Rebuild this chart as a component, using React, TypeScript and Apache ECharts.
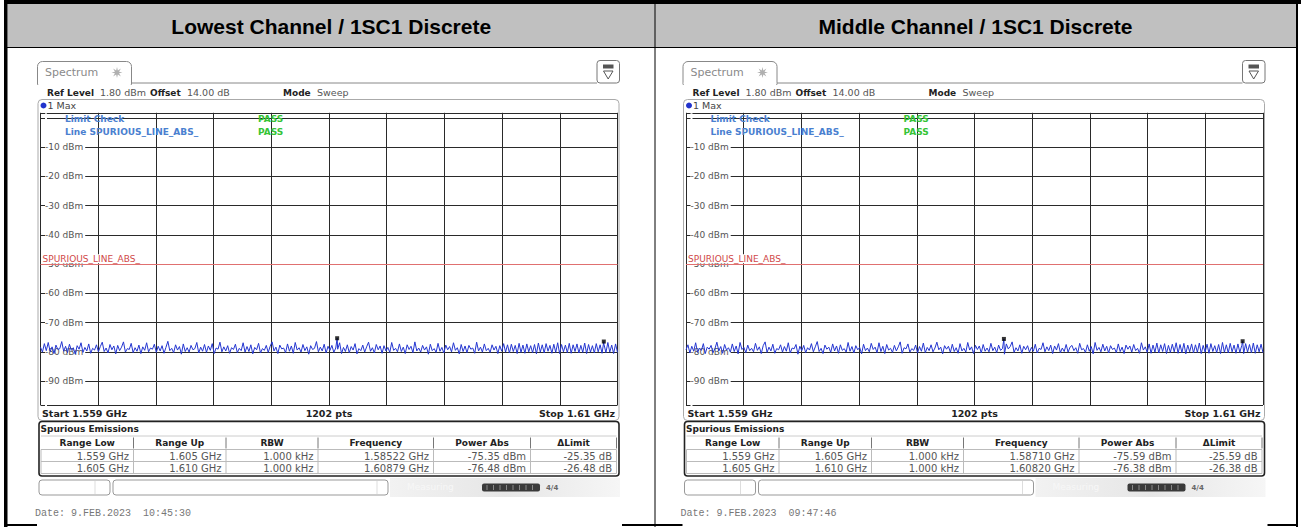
import React, { useEffect, useRef } from "react";
import * as echarts from "echarts";

// ---------- data ----------
const titles = ["Lowest Channel / 1SC1 Discrete", "Middle Channel / 1SC1 Discrete"];
const dates = ["Date: 9.FEB.2023  10:45:30", "Date: 9.FEB.2023  09:47:46"];
const START_GHZ = 1.559;
const STOP_GHZ = 1.61;
const POINTS = 1202;
const REF_LEVEL = 1.8;
const RANGE_DB = 100;
const LIMIT_DBM = -50;
const LIMIT_NAME = "SPURIOUS_LINE_ABS_";

const tableHeaders = ["Range Low", "Range Up", "RBW", "Frequency", "Power Abs", "\u0394Limit"];
const rangeLow = ["1.559 GHz", "1.605 GHz"];
const rangeUp = ["1.605 GHz", "1.610 GHz"];
const rbw = ["1.000 kHz", "1.000 kHz"];

const peakFreqLow = [1.58522, 1.60879];
const peakPowLow = [-75.35, -76.48];
const deltaLow = [-25.35, -26.48];
const peakFreqMid = [1.5871, 1.6082];
const peakPowMid = [-75.59, -76.38];
const deltaMid = [-25.59, -26.38];

const traceLow = [
  -78.4, -80.1, -77.2, -79.6, -76.8, -79.9, -78.3, -80.6, -77.7, -79.2, -78.9, -76.5, -79.8, -78.1, -80.3, -77.4, -79.5, -78.6, -80.8, -77.9,
  -79.1, -76.9, -80.2, -78.5, -79.7, -77.3, -80.5, -78.8, -79.4, -77.6, -80.0, -78.2, -76.7, -79.9, -78.7, -80.4, -77.5, -79.3, -78.0, -80.7,
  -77.8, -79.6, -78.4, -76.6, -80.1, -78.9, -79.2, -77.1, -80.3, -78.6, -79.8, -77.7, -80.6, -78.3, -79.5, -76.9, -80.0, -78.7, -79.1, -77.4,
  -80.2, -78.1, -79.7, -77.9, -80.5, -78.5, -76.4, -79.6, -78.8, -80.3, -77.6, -79.4, -78.2, -80.8, -77.3, -79.9, -78.6, -80.1, -77.8, -79.3,
  -78.9, -76.8, -80.4, -78.4, -79.8, -77.5, -80.2, -78.0, -79.5, -77.2, -80.6, -78.7, -79.1, -76.7, -80.0, -78.3, -79.7, -77.9, -80.5, -78.6,
  -79.2, -77.4, -80.3, -78.8, -79.6, -76.9, -80.1, -78.2, -79.9, -77.6, -80.7, -78.5, -79.3, -77.1, -80.4, -78.9, -79.5, -77.8, -80.2, -78.1,
  -76.6, -79.7, -78.4, -80.6, -77.7, -79.0, -78.7, -80.3, -77.3, -79.8, -78.0, -80.5, -76.8, -79.4, -78.6, -80.1, -77.5, -79.6, -78.3, -80.8,
  -77.9, -79.2, -78.8, -76.5, -80.0, -78.4, -79.7, -77.4, -80.4, -78.1, -79.5, -77.8, -80.2, -78.7, -79.1, -76.9, -80.6, -78.5, -79.9, -77.6,
  -80.3, -78.2, -79.4, -77.2, -80.7, -78.9, -79.6, -77.7, -80.1, -78.3, -76.7, -79.8, -78.6, -80.4, -77.5, -79.3, -78.0, -80.5, -77.9, -79.7,
  -78.5, -80.2, -76.8, -79.5, -78.8, -80.0, -77.3, -79.9, -78.4, -80.6, -77.6, -79.2, -78.1, -80.3, -76.6, -79.7, -78.7, -80.1, -77.8, -79.4,
  -78.3, -80.8, -77.4, -79.6, -78.9, -80.2, -77.1, -79.8, -78.5, -80.4, -77.7, -79.3, -78.2, -80.0, -76.9, -79.5, -78.6, -80.7, -77.5, -79.9,
  -78.0, -80.3, -77.8, -79.1, -78.7, -80.5, -76.7, -79.7, -78.4, -80.1, -77.3, -79.6, -78.8, -80.2, -77.6, -79.4, -78.1, -80.6, -77.9, -79.8,
  -77.2, -80.1, -77.6, -80.4, -77.4, -79.9, -77.8, -80.6, -77.1, -80.2, -77.7, -80.5, -77.3, -80.0, -77.9, -80.3, -77.5, -80.7, -77.0, -80.1,
  -77.6, -80.4, -77.2, -79.8, -77.8, -80.5, -77.4, -80.2, -76.9, -80.6, -77.5, -80.0, -77.7, -80.3, -77.1, -80.5, -77.6, -79.9, -77.3, -80.4,
  -77.8, -80.2, -77.0, -80.6, -77.5, -80.1, -77.9, -80.4, -77.2, -80.0, -77.6, -80.5, -77.4, -80.3, -76.8, -80.1, -77.7, -80.6, -77.3, -80.2,
];

const traceMid = [
  -79.3, -77.6, -80.4, -78.1, -79.8, -76.9, -80.2, -78.7, -79.5, -77.2, -80.6, -78.4, -79.1, -77.8, -80.3, -78.9, -76.7, -79.7, -78.2, -80.5,
  -77.5, -79.4, -78.6, -80.1, -77.3, -79.9, -78.0, -80.7, -76.8, -79.2, -78.5, -80.3, -77.7, -79.6, -78.8, -80.0, -77.1, -79.5, -78.3, -80.6,
  -77.9, -76.6, -80.2, -78.4, -79.7, -77.4, -80.5, -78.9, -79.3, -77.6, -80.1, -78.2, -79.8, -76.9, -80.4, -78.7, -79.0, -77.5, -80.8, -78.1,
  -79.6, -77.8, -80.3, -78.6, -79.4, -77.2, -80.0, -78.3, -76.5, -79.9, -78.8, -80.6, -77.7, -79.1, -78.4, -80.2, -77.3, -79.7, -78.0, -80.5,
  -77.6, -79.5, -78.9, -80.1, -76.8, -79.8, -78.2, -80.4, -77.9, -79.3, -78.5, -80.7, -77.4, -79.6, -78.7, -80.0, -77.1, -79.2, -78.4, -80.3,
  -76.9, -79.9, -78.1, -80.6, -77.5, -79.4, -78.8, -80.2, -77.8, -79.7, -78.3, -76.6, -80.5, -78.6, -79.0, -77.3, -80.1, -78.9, -79.5, -77.7,
  -80.4, -78.2, -79.8, -77.0, -80.3, -78.5, -79.6, -77.6, -80.0, -78.7, -76.7, -79.3, -78.4, -80.7, -77.9, -79.1, -78.1, -80.2, -77.4, -79.9,
  -78.6, -80.5, -77.2, -79.7, -78.8, -80.1, -76.8, -79.4, -78.3, -80.6, -77.8, -79.2, -78.0, -80.4, -77.5, -79.8, -78.7, -80.0, -77.1, -79.6,
  -78.4, -80.3, -77.7, -79.5, -78.9, -80.8, -77.3, -79.0, -78.2, -76.6, -80.2, -78.6, -79.7, -77.6, -80.5, -78.1, -79.3, -77.9, -80.1, -78.5,
  -79.8, -77.4, -80.4, -78.8, -79.2, -76.9, -80.0, -78.3, -79.6, -77.7, -80.6, -78.0, -79.4, -77.2, -80.3, -78.7, -79.9, -77.5, -80.1, -78.4,
  -77.8, -79.6, -78.6, -80.5, -77.1, -79.3, -78.9, -80.2, -77.6, -79.8, -78.2, -80.7, -76.8, -79.5, -78.5, -80.0, -77.4, -79.7, -78.1, -80.4,
  -77.9, -79.2, -78.7, -80.3, -77.3, -79.9, -78.4, -80.6, -77.7, -79.1, -78.0, -80.1, -77.5, -79.6, -78.8, -80.5, -76.9, -79.4, -78.3, -80.2,
  -77.3, -80.5, -77.7, -80.1, -77.0, -80.4, -77.6, -79.9, -77.2, -80.6, -77.8, -80.2, -77.4, -80.0, -76.9, -80.5, -77.5, -80.3, -77.1, -80.7,
  -77.7, -80.0, -77.3, -80.4, -77.6, -80.2, -77.0, -80.6, -77.8, -80.1, -77.4, -80.5, -77.2, -79.9, -77.9, -80.3, -77.5, -80.6, -76.8, -80.2,
  -77.6, -80.4, -77.1, -80.0, -77.7, -80.5, -77.3, -80.2, -77.8, -80.6, -77.2, -80.1, -77.5, -80.3, -77.0, -80.5, -77.6, -80.0, -77.4, -80.3,
];

// ---------- helpers ----------
const FONT = "DejaVu Sans";

function buildTrace(values: number[], mFreq: number[], mPow: number[]) {
  const step = (STOP_GHZ - START_GHZ) / (values.length - 1);
  const pts: number[][] = values.map((v, i) => [START_GHZ + i * step, v]);
  mFreq.forEach((f, k) => pts.push([f, mPow[k]]));
  pts.sort((a, b) => a[0] - b[0]);
  return pts;
}

function T(x: number, y: number, text: string, o: any = {}) {
  const align = o.align || "left";
  return {
    type: "text",
    x,
    y,
    silent: true,
    z: o.z ?? 20,
    style: {
      text,
      fill: o.fill || "#222",
      fontSize: o.size || 9,
      fontFamily: o.family || FONT,
      fontWeight: o.weight || "normal",
      align,
      textAlign: align,
      verticalAlign: "middle",
      textVerticalAlign: "middle",
    },
  };
}
function L(x1: number, y1: number, x2: number, y2: number, stroke: string, lw = 1, z = 20) {
  return { type: "line", silent: true, z, shape: { x1, y1, x2, y2 }, style: { stroke, lineWidth: lw } };
}
function R(x: number, y: number, w: number, h: number, o: any = {}) {
  return {
    type: "rect",
    silent: true,
    z: o.z ?? 15,
    shape: { x, y, width: w, height: h, r: o.r || 0 },
    style: { fill: o.fill || "none", stroke: o.stroke || "none", lineWidth: o.lw || 1 },
  };
}

const GRID_LEFT = 40.5;
const GRID_TOP = 112.8;
const GRID_W = 577;
const GRID_H = 292.2;
const COLS = [41, 133.5, 226, 318, 433.5, 530.5, 616.5];
const HEADER_BOTTOM = 47;

function starPoints(cx: number, cy: number, ro: number, ri: number, n: number) {
  const pts: number[][] = [];
  for (let i = 0; i < n * 2; i++) {
    const a = (Math.PI * i) / n - Math.PI / 2;
    const r = i % 2 === 0 ? ro : ri;
    pts.push([cx + r * Math.cos(a), cy + r * Math.sin(a)]);
  }
  return pts;
}

function panelGraphics(dx: number, p: any) {
  const g: any[] = [];
  // tab
  g.push({
    type: "rect", silent: true, z: 15,
    shape: { x: 37.5 + dx, y: 61.5, width: 94, height: 23, r: [5, 5, 0, 0] },
    style: { fill: "#fff", stroke: "#888", lineWidth: 1 },
  });
  g.push(R(38.2 + dx, 82.4, 92.6, 3, { fill: "#fff", z: 16 }));
  g.push(L(131.5 + dx, 83, 597 + dx, 83, "#888", 1, 16));
  g.push(T(45 + dx, 72.5, "Spectrum", { fill: "#8a8a8a", size: 11 }));
  g.push({ type: "polygon", silent: true, z: 20, shape: { points: starPoints(117 + dx, 72.5, 5.5, 2.2, 8) }, style: { fill: "#b0b0b0" } });
  // icon box
  g.push(R(597 + dx, 60.5, 22.5, 22.5, { r: 3, stroke: "#777", fill: "#fff" }));
  g.push(R(603 + dx, 64.5, 10.5, 4, { fill: "#555", z: 20 }));
  g.push({ type: "polygon", silent: true, z: 20, shape: { points: [[603.5 + dx, 71], [613 + dx, 71], [608.2 + dx, 79]] }, style: { fill: "none", stroke: "#555", lineWidth: 1 } });
  // ref level row
  g.push(T(47 + dx, 92.5, "Ref Level", { weight: "bold" }));
  g.push(T(100 + dx, 92.5, `${REF_LEVEL.toFixed(2)} dBm`, { fill: "#555", size: 9.5 }));
  g.push(T(150 + dx, 92.5, "Offset", { weight: "bold" }));
  g.push(T(187 + dx, 92.5, "14.00 dB", { fill: "#555", size: 9.5 }));
  g.push(T(283 + dx, 92.5, "Mode", { weight: "bold" }));
  g.push(T(317 + dx, 92.5, "Sweep", { fill: "#555", size: 9.5 }));
  // trace panel
  g.push(R(38 + dx, 99.5, 581, 321, { r: 4, stroke: "#aaa", z: 5 }));
  g.push({ type: "circle", silent: true, z: 20, shape: { cx: 43.5 + dx, cy: 105.5, r: 3 }, style: { fill: "#2233cc" } });
  g.push(T(47.5 + dx, 105.5, "1 Max", { fill: "#444", size: 9.5 }));
  g.push(T(65 + dx, 119, "Limit Check", { fill: "#4a80d0", weight: "bold" }));
  g.push(T(258 + dx, 119, "PASS", { fill: "#35c435", weight: "bold" }));
  g.push(T(65 + dx, 132, `Line ${LIMIT_NAME}`, { fill: "#4a80d0", weight: "bold" }));
  g.push(T(258 + dx, 132, "PASS", { fill: "#35c435", weight: "bold" }));
  // start / stop
  g.push(T(42 + dx, 413, `Start ${START_GHZ} GHz`, { weight: "bold", size: 9.5 }));
  g.push(T(GRID_LEFT + GRID_W / 2 + dx, 413, `${POINTS} pts`, { weight: "bold", size: 9.5, align: "center" }));
  g.push(T(615 + dx, 413, `Stop ${STOP_GHZ} GHz`, { weight: "bold", size: 9.5, align: "right" }));
  // spurious emissions table
  g.push(R(39 + dx, 421.5, 580, 54.5, { r: 3, stroke: "#222", lw: 1.6 }));
  g.push(T(40.5 + dx, 429, "Spurious Emissions", { weight: "bold" }));
  g.push(L(41 + dx, 436, 616.5 + dx, 436, "#ccc"));
  g.push(L(41 + dx, 449.5, 616.5 + dx, 449.5, "#bbb"));
  g.push(L(41 + dx, 461.5, 616.5 + dx, 461.5, "#bbb"));
  g.push(L(41 + dx, 473.5, 616.5 + dx, 473.5, "#bbb"));
  COLS.forEach((cx, i) => {
    g.push(L(cx + dx, 449.5, cx + dx, 473.5, "#bbb"));
    if (i > 0) g.push(L(cx + dx, 437.5, cx + dx, 448.5, "#777"));
  });
  tableHeaders.forEach((h, i) => {
    g.push(T((COLS[i] + COLS[i + 1]) / 2 + dx, 443, h, { weight: "bold", align: "center" }));
  });
  const rows = [0, 1].map((k) => [
    rangeLow[k],
    rangeUp[k],
    rbw[k],
    `${p.mFreq[k].toFixed(5)} GHz`,
    `${p.mPow[k].toFixed(2)} dBm`,
    `${p.delta[k].toFixed(2)} dB`,
  ]);
  rows.forEach((r, k) => {
    r.forEach((v, i) => {
      g.push(T(COLS[i + 1] - 4.5 + dx, 456 + k * 12, v, { fill: "#555", size: 10, align: "right" }));
    });
  });
  // status bar
  g.push(R(390 + dx, 478, 230, 19, {
    z: 12,
    fill: new echarts.graphic.LinearGradient(0, 0, 1, 0, [
      { offset: 0, color: "#f2f2f2" },
      { offset: 0.5, color: "#e6e6e6" },
      { offset: 1, color: "#f6f6f6" },
    ]),
  }));
  g.push(R(39 + dx, 480, 71, 15, { r: 3, stroke: "#999", fill: "#fff" }));
  g.push(L(95 + dx, 481, 95 + dx, 494, "#ddd"));
  g.push(R(113 + dx, 480, 275, 15, { r: 3, stroke: "#999", fill: "#fff" }));
  g.push(L(377 + dx, 481, 377 + dx, 494, "#ddd"));
  g.push(T(407 + dx, 487, "Measuring", { fill: "#f7f7f7", size: 9 }));
  g.push(R(482 + dx, 483.5, 58, 8, { r: 2, fill: "#3a3a3a", z: 18 }));
  for (let i = 0; i < 8; i++) {
    g.push(L(487 + i * 6.5 + dx, 485, 487 + i * 6.5 + dx, 490, "#888", 1, 19));
  }
  g.push(T(546 + dx, 487.5, "4/4", { fill: "#666", size: 7, weight: "bold" }));
  // date
  g.push(T(35 + dx, 513, p.date, { fill: "#777", size: 10, family: "Liberation Mono" }));
  return g;
}

const panels = [
  { dx: 0, title: titles[0], date: dates[0], trace: traceLow, mFreq: peakFreqLow, mPow: peakPowLow, delta: deltaLow },
  { dx: 645.5, title: titles[1], date: dates[1], trace: traceMid, mFreq: peakFreqMid, mPow: peakPowMid, delta: deltaMid },
];

function buildOption() {
  const grids: any[] = [];
  const xAxes: any[] = [];
  const yAxes: any[] = [];
  const series: any[] = [];
  const graphics: any[] = [];

  // outer table frame
  graphics.push(R(7.5, 4, 1288.5, HEADER_BOTTOM - 4, { fill: "#c0c0c0", z: 1 }));
  graphics.push(R(4, 0, 1297, 4, { fill: "#000", z: 2 }));
  graphics.push(R(4, 0, 3.5, 527, { fill: "#000", z: 2 }));
  graphics.push(R(1296, 0, 2, 527, { fill: "#000", z: 2 }));
  graphics.push(L(7, HEADER_BOTTOM + 0.5, 1297, HEADER_BOTTOM + 0.5, "#000", 1, 2));
  graphics.push(L(655, 4, 655, 527, "#000", 1, 2));
  graphics.push(R(4, 524, 1294, 2, { fill: "#000", z: 2 }));
  graphics.push(R(37, 498, 585, 29, { fill: "#fff", z: 3 }));
  graphics.push(R(682.5, 498, 585, 29, { fill: "#fff", z: 3 }));

  const centers = [(7.5 + 655) / 2, (655 + 1296) / 2];
  panels.forEach((p, i) => {
    graphics.push(T(centers[i], 26, p.title, {
      size: 21, weight: "bold", family: "Liberation Sans", fill: "#000", align: "center",
    }));
    graphics.push(...panelGraphics(p.dx, p));

    grids.push({ left: GRID_LEFT + p.dx, top: GRID_TOP, width: GRID_W, height: GRID_H, containLabel: false });
    xAxes.push({
      type: "value", gridIndex: i, min: START_GHZ, max: STOP_GHZ, show: false,
    });
    xAxes.push({
      type: "value", gridIndex: i, min: 0, max: 10, interval: 1,
      axisLine: { show: false }, axisTick: { show: false }, axisLabel: { show: false },
      splitLine: { show: true, lineStyle: { color: "#2a2a2a", width: 1 } },
    });
    yAxes.push({
      type: "value", gridIndex: i, min: REF_LEVEL - RANGE_DB, max: REF_LEVEL, splitNumber: 10,
      axisLine: { show: false }, axisTick: { show: false },
      splitLine: { show: true, lineStyle: { color: "#2a2a2a", width: 1 } },
      axisLabel: {
        inside: true, margin: 4.5, color: "#555", fontSize: 9, fontFamily: FONT,
        backgroundColor: "#fff", padding: [1, 2, 1, 0],
        formatter: (v: number) => {
          const r = Math.round(v / 10) * 10;
          return Math.abs(v - r) < 1e-6 && r < 0 ? `${r} dBm` : "";
        },
      },
    });
    series.push({
      type: "line", xAxisIndex: i * 2, yAxisIndex: i,
      data: buildTrace(p.trace, p.mFreq, p.mPow),
      showSymbol: false, symbol: "none", silent: true,
      lineStyle: { color: "#2436d0", width: 1 },
      z: 5,
      markLine: {
        silent: true, symbol: ["none", "none"],
        lineStyle: { color: "#e07070", width: 1, type: "solid" },
        label: {
          show: true, position: "insideStartTop", formatter: LIMIT_NAME,
          color: "#d04848", fontSize: 9, fontFamily: FONT, distance: [1, 1],
          backgroundColor: "#fff", padding: [0, 1, 0, 1],
        },
        data: [{ yAxis: LIMIT_DBM }],
      },
    });
    series.push({
      type: "scatter", xAxisIndex: i * 2, yAxisIndex: i,
      data: p.mFreq.map((f: number, k: number) => [f, p.mPow[k]]),
      symbol: "rect", symbolSize: 4, itemStyle: { color: "#000" }, silent: true, z: 6,
    });
  });

  return {
    animation: false,
    backgroundColor: "#fff",
    grid: grids,
    xAxis: xAxes,
    yAxis: yAxes,
    series,
    graphic: { elements: graphics },
  };
}

export default function App() {
  const ref = useRef<HTMLDivElement>(null);
  useEffect(() => {
    if (!ref.current) return;
    const chart = echarts.init(ref.current, undefined, { renderer: "svg" });
    chart.setOption(buildOption() as any);
    return () => chart.dispose();
  }, []);
  return (
    <div
      ref={ref}
      style={{ position: "absolute", left: 0, top: 0, width: 1301, height: 527, background: "#fff" }}
    />
  );
}
